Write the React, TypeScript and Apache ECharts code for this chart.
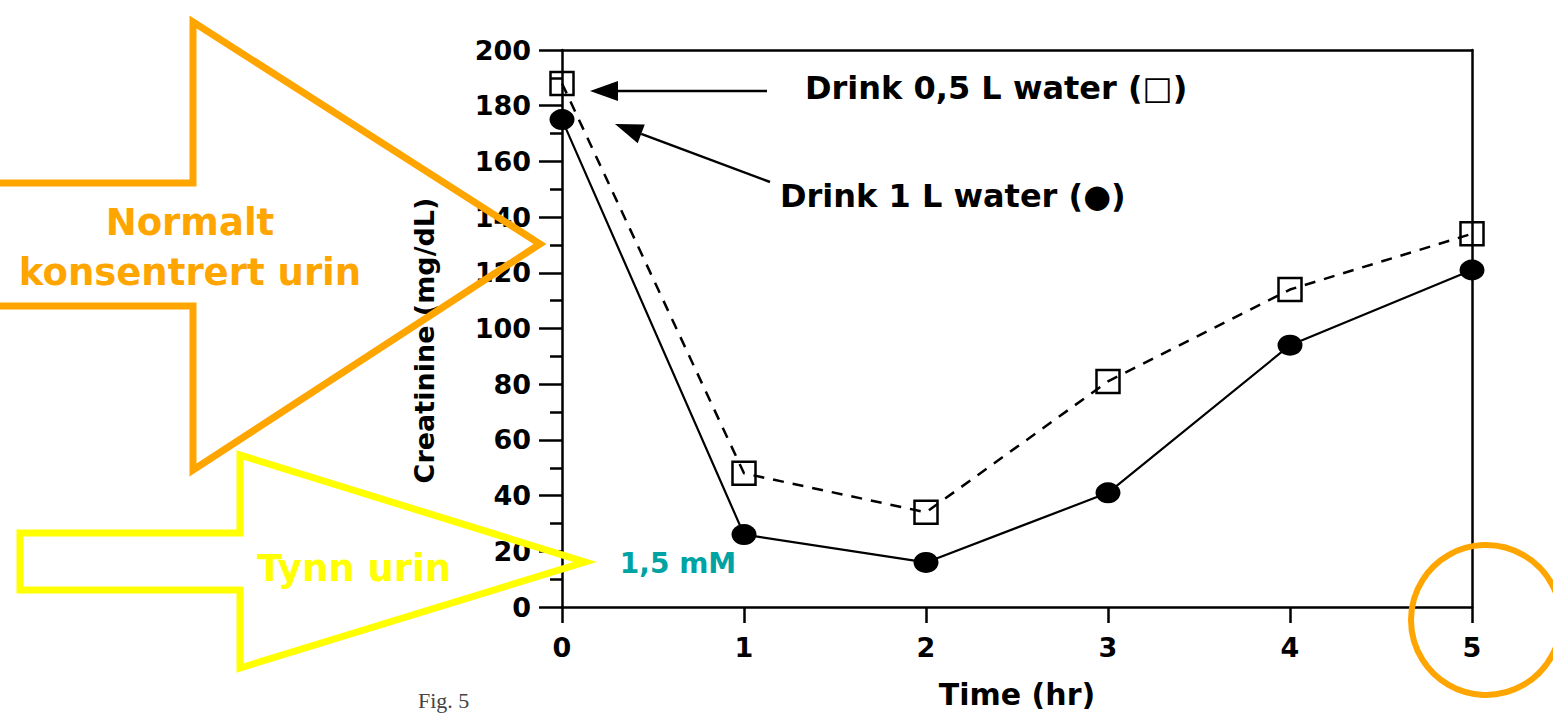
import React, { useEffect, useRef } from "react";
import * as echarts from "echarts";

const timeHours = [0, 1, 2, 3, 4, 5];
const halfLiterValues = [188, 48, 34, 81, 114, 134];
const oneLiterValues = [175, 26, 16, 41, 94, 121];
const halfLiterLabel = "Drink 0,5 L water (□)";
const oneLiterLabel = "Drink 1 L water (●)";
const yTicks = { min: 0, max: 200, interval: 20 };
const xTicks = { min: 0, max: 5, interval: 1 };

const FONT = "DejaVu Sans";
const ORANGE = "#FFA500";
const YELLOW = "#FFFF00";

export default function App() {
  const ref = useRef<HTMLDivElement>(null);
  useEffect(() => {
    if (!ref.current) return;
    const chart = echarts.init(ref.current, null, { renderer: "svg" });
    const axisLabel = {
      color: "#000",
      fontFamily: FONT,
      fontWeight: "bold",
      fontSize: 27,
    };
    const blackLine = { color: "#000", width: 2.5 };
    const a2dir = (() => {
      const tip = [615, 124];
      const tail = [770, 182];
      const dx = tip[0] - tail[0];
      const dy = tip[1] - tail[1];
      const len = Math.hypot(dx, dy);
      const ux = dx / len;
      const uy = dy / len;
      const bx = tip[0] - 28 * ux;
      const by = tip[1] - 28 * uy;
      const px = -uy * 10;
      const py = ux * 10;
      return { tip, tail, base: [bx, by], p1: [bx + px, by + py], p2: [bx - px, by - py] };
    })();
    chart.setOption({
      animation: false,
      backgroundColor: "#fff",
      grid: { left: 562, top: 50, width: 910, height: 558, containLabel: false },
      xAxis: [
        {
          type: "value",
          min: xTicks.min,
          max: xTicks.max,
          interval: xTicks.interval,
          position: "bottom",
          axisLine: { show: true, lineStyle: blackLine },
          axisTick: { show: true, length: 16, lineStyle: blackLine },
          axisLabel: { ...axisLabel, margin: 27 },
          splitLine: { show: false },
          name: "Time (hr)",
          nameLocation: "middle",
          nameGap: 72,
          nameTextStyle: { color: "#000", fontFamily: FONT, fontWeight: "bold", fontSize: 30 },
        },
        {
          type: "value",
          min: xTicks.min,
          max: xTicks.max,
          position: "top",
          axisLine: { show: true, onZero: false, lineStyle: blackLine },
          axisTick: { show: false },
          axisLabel: { show: false },
          splitLine: { show: false },
        },
      ],
      yAxis: [
        {
          type: "value",
          min: yTicks.min,
          max: yTicks.max,
          interval: yTicks.interval,
          position: "left",
          axisLine: { show: true, lineStyle: blackLine },
          axisTick: { show: true, length: 23, lineStyle: blackLine },
          minorTick: { show: true, splitNumber: 2, length: 12, lineStyle: blackLine },
          axisLabel: { ...axisLabel, margin: 31 },
          splitLine: { show: false },
          name: "Creatinine (mg/dL)",
          nameLocation: "middle",
          nameGap: 124,
          nameTextStyle: {
            color: "#000",
            fontFamily: FONT,
            fontWeight: "bold",
            fontSize: 27,
            padding: [0, 24, 0, 0],
          },
        },
        {
          type: "value",
          min: yTicks.min,
          max: yTicks.max,
          position: "right",
          axisLine: { show: true, onZero: false, lineStyle: blackLine },
          axisTick: { show: false },
          axisLabel: { show: false },
          splitLine: { show: false },
        },
      ],
      series: [
        {
          name: halfLiterLabel,
          type: "line",
          data: timeHours.map((t, i) => [t, halfLiterValues[i]]),
          symbol: "rect",
          symbolSize: 23,
          itemStyle: { color: "rgba(0,0,0,0)", borderColor: "#000", borderWidth: 2.5 },
          lineStyle: { color: "#000", width: 2.5, type: [11, 9] },
          z: 3,
        },
        {
          name: oneLiterLabel,
          type: "line",
          data: timeHours.map((t, i) => [t, oneLiterValues[i]]),
          symbol: "circle",
          symbolSize: [25, 21],
          itemStyle: { color: "#000" },
          lineStyle: { color: "#000", width: 2.2 },
          z: 4,
        },
      ],
      graphic: [
        // chart annotations (black arrows + labels)
        { type: "line", shape: { x1: 767, y1: 91, x2: 612, y2: 91 }, style: { stroke: "#000", lineWidth: 2.5 } },
        { type: "polygon", shape: { points: [[590, 91], [618, 81], [618, 101]] }, style: { fill: "#000" } },
        {
          type: "line",
          shape: { x1: a2dir.tail[0], y1: a2dir.tail[1], x2: a2dir.base[0], y2: a2dir.base[1] },
          style: { stroke: "#000", lineWidth: 2.5 },
        },
        { type: "polygon", shape: { points: [a2dir.tip, a2dir.p1, a2dir.p2] }, style: { fill: "#000" } },
        {
          type: "text",
          x: 805,
          y: 88,
          style: { text: halfLiterLabel, fill: "#000", fontFamily: FONT, fontWeight: "bold", fontSize: 32, align: "left", verticalAlign: "middle" },
        },
        {
          type: "text",
          x: 780,
          y: 196,
          style: { text: oneLiterLabel, fill: "#000", fontFamily: FONT, fontWeight: "bold", fontSize: 32, align: "left", verticalAlign: "middle" },
        },
        {
          type: "text",
          x: 418,
          y: 700,
          style: { text: "Fig. 5", fill: "#444", fontFamily: "Liberation Serif", fontSize: 22, align: "left", verticalAlign: "middle" },
        },
        // overlay arrows
        {
          type: "polygon",
          z: 100,
          shape: { points: [[-10, 183], [193, 183], [193, 22], [540, 244], [193, 470], [193, 306], [-10, 306]] },
          style: { fill: "none", stroke: ORANGE, lineWidth: 7, lineJoin: "miter" },
        },
        {
          type: "polygon",
          z: 100,
          shape: { points: [[20, 533], [240, 533], [240, 455], [585, 562], [240, 668], [240, 590], [20, 590]] },
          style: { fill: "none", stroke: YELLOW, lineWidth: 7, lineJoin: "miter" },
        },
        {
          type: "text",
          z: 101,
          x: 190,
          y: 222,
          style: { text: "Normalt", fill: ORANGE, fontFamily: FONT, fontWeight: "bold", fontSize: 37, align: "center", verticalAlign: "middle" },
        },
        {
          type: "text",
          z: 101,
          x: 190,
          y: 272,
          style: { text: "konsentrert urin", fill: ORANGE, fontFamily: FONT, fontWeight: "bold", fontSize: 37, align: "center", verticalAlign: "middle" },
        },
        {
          type: "text",
          z: 101,
          x: 354,
          y: 568,
          style: { text: "Tynn urin", fill: YELLOW, fontFamily: FONT, fontWeight: "bold", fontSize: 37, align: "center", verticalAlign: "middle" },
        },
        {
          type: "text",
          z: 101,
          x: 678,
          y: 563,
          style: { text: "1,5 mM", fill: "#00A3A3", fontFamily: FONT, fontWeight: "bold", fontSize: 28, align: "center", verticalAlign: "middle" },
        },
        {
          type: "circle",
          z: 100,
          shape: { cx: 1486, cy: 620, r: 75 },
          style: { fill: "none", stroke: ORANGE, lineWidth: 6 },
        },
      ],
    });
    return () => chart.dispose();
  }, []);
  return (
    <div
      ref={ref}
      style={{ position: "fixed", left: 0, top: 0, width: 1553, height: 714, background: "#fff" }}
    />
  );
}
